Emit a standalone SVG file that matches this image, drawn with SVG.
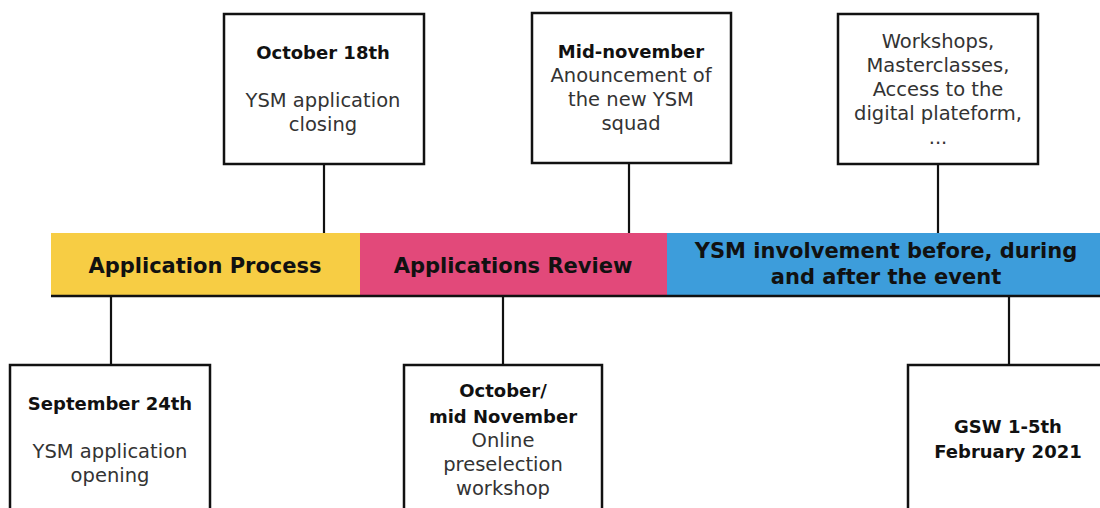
<svg xmlns="http://www.w3.org/2000/svg" width="1100" height="508" viewBox="0 0 1100 508">
<style>
.box{fill:#fff;stroke:#111;stroke-width:2.5}
.conn line{stroke:#111;stroke-width:2.2}
.b{font-family:"DejaVu Sans",sans-serif;font-weight:bold;font-size:18px;fill:#111;text-anchor:middle}
.r{font-family:"DejaVu Sans",sans-serif;font-size:19.5px;fill:#333;text-anchor:middle}
.bar{font-family:"DejaVu Sans",sans-serif;font-weight:bold;font-size:21px;fill:#111;text-anchor:middle}
</style>
<rect width="1100" height="508" fill="#fff"/>
<g id="phases">
<rect x="51" y="233" width="309" height="63" fill="#F7CD44"/>
<rect x="360" y="233" width="307" height="63" fill="#E2497A"/>
<rect x="667" y="233" width="433" height="63" fill="#3D9DDB"/>
<line x1="51" y1="296" x2="1100" y2="296" stroke="#111" stroke-width="2.5"/>
<text class="bar" x="205" y="273">Application Process</text>
<text class="bar" x="513" y="273">Applications Review</text>
<text class="bar" x="886" y="258">YSM involvement before, during</text>
<text class="bar" x="886" y="284">and after the event</text>
</g>
<g id="connectors" class="conn">
<line x1="324" y1="164" x2="324" y2="233"/>
<line x1="629" y1="163" x2="629" y2="233"/>
<line x1="938" y1="164" x2="938" y2="233"/>
<line x1="111" y1="296" x2="111" y2="365"/>
<line x1="503" y1="296" x2="503" y2="365"/>
<line x1="1009" y1="296" x2="1009" y2="365"/>
</g>
<g id="oct18">
<rect class="box" x="224" y="14" width="200" height="150"/>
<text class="b" x="323" y="59">October 18th</text>
<text class="r" x="323" y="107">YSM application</text>
<text class="r" x="323" y="131">closing</text>
</g>
<g id="midnov">
<rect class="box" x="532" y="13" width="199" height="150"/>
<text class="b" x="631" y="58">Mid-november</text>
<text class="r" x="631" y="82">Anouncement of</text>
<text class="r" x="631" y="106">the new YSM</text>
<text class="r" x="631" y="130">squad</text>
</g>
<g id="workshops">
<rect class="box" x="838" y="14" width="200" height="150"/>
<text class="r" x="938" y="48">Workshops,</text>
<text class="r" x="938" y="72">Masterclasses,</text>
<text class="r" x="938" y="96">Access to the</text>
<text class="r" x="938" y="120">digital plateform,</text>
<text class="r" x="938" y="144">...</text>
</g>
<g id="sep24">
<rect class="box" x="10" y="365" width="200" height="160"/>
<text class="b" x="110" y="410">September 24th</text>
<text class="r" x="110" y="458">YSM application</text>
<text class="r" x="110" y="482">opening</text>
</g>
<g id="octnov">
<rect class="box" x="404" y="365" width="198" height="160"/>
<text class="b" x="503" y="397">October/</text>
<text class="b" x="503" y="423">mid November</text>
<text class="r" x="503" y="447">Online</text>
<text class="r" x="503" y="471">preselection</text>
<text class="r" x="503" y="495">workshop</text>
</g>
<g id="gsw">
<rect class="box" x="908" y="365" width="200" height="160"/>
<text class="b" x="1008" y="433">GSW 1-5th</text>
<text class="b" x="1008" y="458">February 2021</text>
</g>
</svg>
